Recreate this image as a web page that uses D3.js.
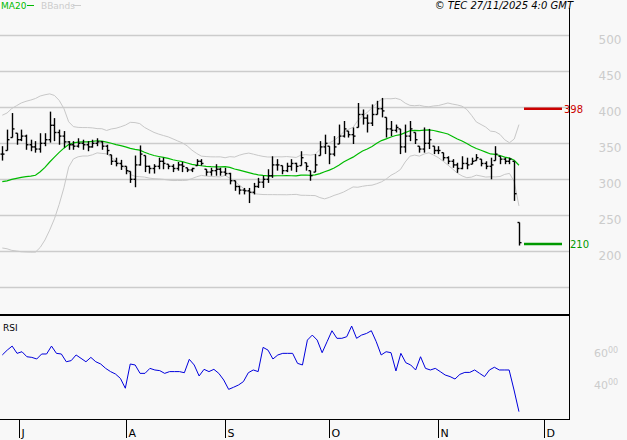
<!DOCTYPE html>
<html>
<head>
<meta charset="utf-8">
<script src="https://cdn.jsdelivr.net/npm/d3@7"></script>
<style>
  body { margin: 0; background: #f8f8f8; }
  svg { display: block; font-family: "DejaVu Sans", sans-serif; }
</style>
</head>
<body>
<div id="chart"></div>
<script>
// closes before the visible window (only used for MA20 / BBands warm-up)
var preCloses = [335, 330, 325, 332, 328, 330, 320, 250, 235, 225, 230, 228, 235, 245, 300, 330, 340, 345, 338];

// visible bars: high, low, close
var highs = [346,369,392,364,369,362,355,353,364,364,394,385,369,367,353,353,357,355,353,355,357,353,348,334,330,327,318,311,333,
  347,333,319,321,330,330,321,321,324,324,316,316,328,328,314,316,321,316,316,309,298,291,288,288,295,302,305,314,
  332,328,319,323,328,323,339,323,312,335,353,362,346,360,376,381,367,372,406,397,390,404,409,413,386,381,376,
  370,376,381,365,346,372,370,346,346,337,332,328,323,332,330,330,335,328,325,330,346,332,330,330,325,240];
var lows = [326,340,358,348,353,341,339,337,337,346,351,353,348,344,341,341,344,341,339,344,346,341,334,320,318,313,307,295,289,
  319,310,308,308,314,314,314,310,312,310,310,310,319,319,305,305,305,305,305,293,284,279,279,267,279,288,288,295,
  302,312,307,310,312,310,319,312,298,310,333,335,321,332,349,358,358,349,372,376,365,374,390,386,358,360,365,
  335,337,353,349,337,337,342,335,335,326,321,316,309,314,314,321,326,318,314,300,326,321,321,321,270,208];
var closes = [335,355,370,355,360,348,345,342,350,355,375,365,360,352,348,346,350,348,345,350,352,346,340,325,322,318,312,300,320,
  335,318,315,318,325,322,318,315,320,318,313,315,325,322,310,312,314,310,308,298,290,285,284,282,290,296,300,305,
  320,320,312,318,322,318,330,318,305,320,345,350,335,345,360,370,362,360,390,385,378,390,398,395,370,368,372,
  345,360,370,355,342,350,355,340,340,330,325,320,315,322,320,325,330,322,318,320,335,328,325,328,280,212];

// RSI, first bar to last bar
var rsi = [58.6,61.6,64.1,59.6,60.6,57.5,57.1,56.1,59.2,59.2,64.1,59.6,59.2,54.4,55.1,58.6,56.5,54.4,57.1,54.4,
  53.0,50.3,48.3,46.8,44.1,38.0,53.0,52.4,47.2,47.2,50.3,49.3,48.9,47.2,48.3,48.3,48.3,47.6,55.9,52.4,
  45.6,49.7,48.3,49.7,47.2,43.1,37.3,38.6,40.0,42.1,47.6,49.3,48.3,63.3,61.6,56.1,58.6,59.6,59.6,59.6,
  53.4,52.4,67.8,70.9,67.8,60.0,66.8,73.6,68.9,68.9,69.9,76.5,68.9,70.9,71.9,73.6,66.8,58.6,60.6,60.0,
  48.7,59.6,53.8,52.4,49.3,57.5,50.3,49.3,50.3,48.3,46.2,45.2,43.7,46.6,47.8,47.8,49.3,47.2,45.2,49.3,
  51.0,49.3,49.3,49.3,36.9,23.5];

// month ticks: label and bar index
var monthLabels = ["J", "A", "S", "O", "N", "D"];
var monthIdx = [3.5, 26, 47, 69, 92, 114.3];

var lineHigh = 398, lineLow = 210;
var priceTicks = [200, 250, 300, 350, 400, 450, 500];
var priceGrid = [150, 200, 250, 300, 350, 400, 450, 500];
var rsiTicks = [40, 60];

var W = 627, H = 440, plotR = 569;

var all = preCloses.concat(closes), nPre = preCloses.length;
var ma = [], up = [], lo = [];
closes.forEach(function (c, i) {
  var w = all.slice(i + nPre - 19, i + nPre + 1);
  var m = d3.mean(w), s = d3.deviation(w) * Math.sqrt(19 / 20);
  ma.push(m); up.push(m + 2 * s); lo.push(m - 2 * s);
});

var svg = d3.select("#chart").append("svg").attr("width", W).attr("height", H);
svg.append("rect").attr("width", W).attr("height", H).attr("fill", "#f8f8f8");

var x = d3.scaleLinear().domain([0, 1]).range([2.3, 7.04]);
var y = d3.scaleLinear().domain([200, 400]).range([251.3, 107.3]);
var yr = d3.scaleLinear().domain([40, 60]).range([385, 352.7]);
var xr = d3.scaleLinear().domain([0, rsi.length - 1]).range([x(0), x(closes.length - 1)]);

// grid
svg.append("g").selectAll("line").data(priceGrid).enter().append("line")
  .attr("x1", 0).attr("x2", plotR).attr("y1", function (d) { return Math.round(y(d)) + 0.5; })
  .attr("y2", function (d) { return Math.round(y(d)) + 0.5; })
  .attr("stroke", "#cccccc").attr("stroke-width", 1.3);

svg.append("g").selectAll("text").data(priceTicks).enter().append("text")
  .attr("x", 610).attr("y", function (d) { return y(d) + 9; })
  .attr("text-anchor", "middle").attr("fill", "#cccccc").attr("font-size", 12)
  .text(function (d) { return d; });

var lineGen = function (arr) {
  return d3.line().x(function (d, i) { return x(i); }).y(function (d) { return y(d); })(arr);
};
svg.append("path").attr("d", lineGen(up)).attr("fill", "none").attr("stroke", "#c8c8c8");
svg.append("path").attr("d", lineGen(lo)).attr("fill", "none").attr("stroke", "#c8c8c8");
svg.append("path").attr("d", lineGen(ma)).attr("fill", "none").attr("stroke", "#00bb00").attr("stroke-width", 1.2);

// bars
var bars = svg.append("g").attr("stroke", "#000").attr("stroke-width", 1.4);
closes.forEach(function (c, i) {
  var xi = Math.round(x(i)) + 0.5;
  var o = i > 0 ? closes[i - 1] : c;
  o = Math.max(Math.min(o, highs[i]), lows[i]);
  bars.append("line").attr("x1", xi).attr("x2", xi).attr("y1", y(highs[i])).attr("y2", y(lows[i]));
  bars.append("line").attr("x1", xi - 2).attr("x2", xi).attr("y1", y(o)).attr("y2", y(o));
  bars.append("line").attr("x1", xi).attr("x2", xi + 2).attr("y1", y(c)).attr("y2", y(c));
});

// level lines
svg.append("line").attr("x1", 524).attr("x2", 562).attr("y1", y(lineHigh)).attr("y2", y(lineHigh))
  .attr("stroke", "#cc0000").attr("stroke-width", 2.5);
svg.append("text").attr("x", 564).attr("y", y(lineHigh) + 4).attr("fill", "#cc0000").attr("font-size", 10).text(lineHigh);
svg.append("line").attr("x1", 524).attr("x2", 562).attr("y1", y(lineLow)).attr("y2", y(lineLow))
  .attr("stroke", "#009900").attr("stroke-width", 2.5);
svg.append("text").attr("x", 570).attr("y", y(lineLow) + 4).attr("fill", "#009900").attr("font-size", 10).text(lineLow);

// RSI
svg.append("path").attr("d", d3.line().x(function (d, i) { return xr(i); }).y(function (d) { return yr(d); })(rsi))
  .attr("fill", "none").attr("stroke", "#0000dd").attr("stroke-width", 1);
var rl = svg.append("g").selectAll("text").data(rsiTicks).enter().append("text")
  .attr("x", 594).attr("y", function (d) { return yr(d) + 4; })
  .attr("fill", "#cccccc").attr("font-size", 11);
rl.append("tspan").text(function (d) { return d; });
rl.append("tspan").attr("font-size", 8).attr("dy", -4).text("00");
svg.append("text").attr("x", 3).attr("y", 331).attr("font-size", 9).attr("fill", "#000").text("RSI");

// frame
svg.append("line").attr("x1", plotR + 0.5).attr("x2", plotR + 0.5).attr("y1", 8).attr("y2", 420).attr("stroke", "#000");
svg.append("line").attr("x1", 0).attr("x2", plotR).attr("y1", 315).attr("y2", 315).attr("stroke", "#000").attr("stroke-width", 2);
svg.append("line").attr("x1", 0).attr("x2", plotR).attr("y1", 419.5).attr("y2", 419.5).attr("stroke", "#000");

var mt = svg.append("g").selectAll("g").data(monthIdx).enter().append("g")
  .attr("transform", function (d) { return "translate(" + (Math.round(x(d)) + 0.5) + ",0)"; });
mt.append("line").attr("y1", 420).attr("y2", 438).attr("stroke", "#000");
mt.append("text").attr("x", 2).attr("y", 437).attr("font-size", 11).attr("fill", "#000")
  .text(function (d, i) { return monthLabels[i]; });

// legend & credit
svg.append("text").attr("x", 1).attr("y", 9).attr("font-size", 9).attr("fill", "#00bb00").text("MA20");
svg.append("line").attr("x1", 27).attr("x2", 34).attr("y1", 5.5).attr("y2", 5.5).attr("stroke", "#00bb00");
svg.append("text").attr("x", 41).attr("y", 9).attr("font-size", 9).attr("fill", "#cccccc").text("BBands");
svg.append("line").attr("x1", 73).attr("x2", 81).attr("y1", 5.5).attr("y2", 5.5).attr("stroke", "#cccccc");
svg.append("text").attr("x", 573).attr("y", 9).attr("text-anchor", "end").attr("font-size", 10)
  .attr("font-style", "italic").attr("fill", "#000").text("© TEC 27/11/2025 4:0 GMT");
</script>
</body>
</html>
